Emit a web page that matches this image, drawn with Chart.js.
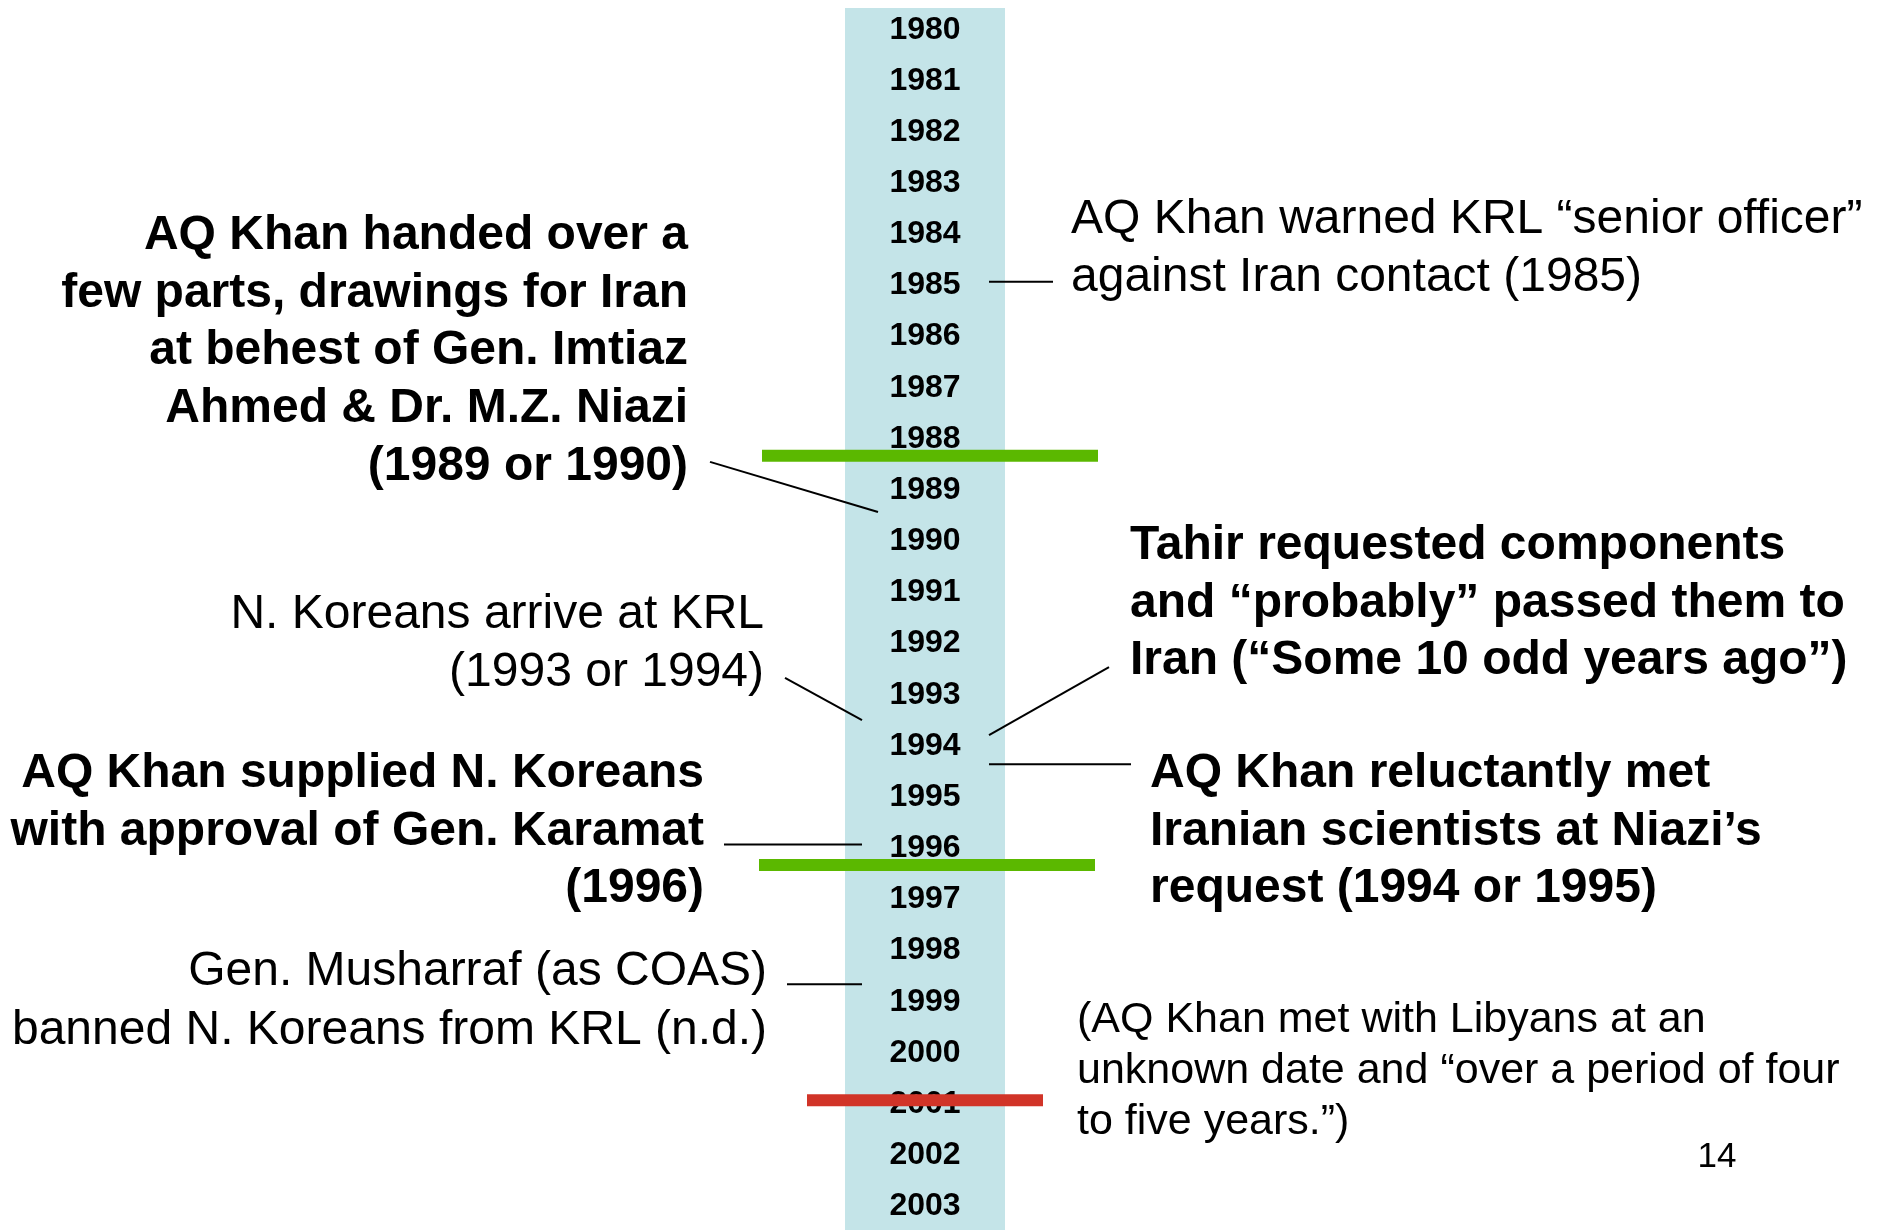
<!DOCTYPE html>
<html><head><meta charset="utf-8">
<script src="https://cdn.jsdelivr.net/npm/chart.js@4/dist/chart.umd.min.js"></script>
<style>html,body{margin:0;padding:0;background:#fff;overflow:hidden}canvas{display:block}</style>
</head><body>
<canvas id="c" width="1883" height="1230"></canvas>
<script>
// ---------- data ----------
const years = [1980,1981,1982,1983,1984,1985,1986,1987,1988,1989,1990,1991,1992,1993,1994,1995,1996,1997,1998,1999,2000,2001,2002,2003];
const boundaryYears = [1988.4, 1996.4, 2001.0];
const boundaryKinds = ['green', 'green', 'red'];
const connectorStartYears = [1985.0, 1988.52, 1992.74, 1992.53, 1994.43, 1996.0, 1998.73];
const connectorEndYears   = [1985.0, 1989.50, 1993.57, 1993.86, 1994.43, 1996.0, 1998.73];
const eventTexts = [
  ["AQ Khan handed over a","few parts, drawings for Iran","at behest of Gen. Imtiaz","Ahmed & Dr. M.Z. Niazi","(1989 or 1990)"],
  ["AQ Khan warned KRL \u201Csenior officer\u201D","against Iran contact (1985)"],
  ["Tahir requested components","and \u201Cprobably\u201D passed them to","Iran (\u201CSome 10 odd years ago\u201D)"],
  ["N. Koreans arrive at KRL","(1993 or 1994)"],
  ["AQ Khan supplied N. Koreans","with approval of Gen. Karamat","(1996)"],
  ["AQ Khan reluctantly met","Iranian scientists at Niazi\u2019s","request (1994 or 1995)"],
  ["Gen. Musharraf (as COAS)","banned N. Koreans from KRL (n.d.)"],
  ["(AQ Khan met with Libyans at an","unknown date and \u201Cover a period of four","to five years.\u201D)"]
];
const pageNumber = "14";

// ---------- layout / styles ----------
const FONT = '"Liberation Sans", Arial, Helvetica, sans-serif';
const W = 1883, H = 1230;
const yearTopPx = 26, yearStepPx = 51.16;
const yMin = years[0] - yearTopPx / yearStepPx;
const yMax = yMin + H / yearStepPx;
const band = {x0: 845, x1: 1005, topYear: years[0] - 18 / yearStepPx, color: '#C4E4E8'};
const boundaryLayout = [
  {x0: 762, x1: 1098}, {x0: 759, x1: 1095}, {x0: 807, x1: 1043}
];
const boundaryColors = {green: '#5BB800', red: '#D13428'};
const connectorLayout = [
  {x0: 989, x1: 1053}, {x0: 710, x1: 878}, {x0: 785, x1: 862}, {x0: 1109, x1: 989},
  {x0: 989, x1: 1131}, {x0: 724, x1: 862}, {x0: 787, x1: 862}
];
const textLayout = [
  {x: 688, align: 'right', base: 249, bold: true, size: 48, pitch: 57.7},
  {x: 1071, align: 'left', base: 233, bold: false, size: 48, pitch: 58},
  {x: 1130, align: 'left', base: 559, bold: true, size: 48, pitch: 57.7},
  {x: 764, align: 'right', base: 628, bold: false, size: 48, pitch: 57.5},
  {x: 704, align: 'right', base: 787, bold: true, size: 48, pitch: 57.7},
  {x: 1150, align: 'left', base: 787, bold: true, size: 48, pitch: 57.7},
  {x: 767, align: 'right', base: 985, bold: false, size: 48, pitch: 59},
  {x: 1077, align: 'left', base: 1032, bold: false, size: 43, pitch: 51}
];

// ---------- datasets ----------
const datasets = [];
boundaryYears.forEach((yr, i) => {
  datasets.push({
    data: [{x: boundaryLayout[i].x0, y: yr}, {x: boundaryLayout[i].x1, y: yr}],
    borderColor: boundaryColors[boundaryKinds[i]], borderWidth: 12, borderCapStyle: 'butt',
    showLine: true, pointRadius: 0, order: 1
  });
});
connectorStartYears.forEach((yr, i) => {
  datasets.push({
    data: [{x: connectorLayout[i].x0, y: yr}, {x: connectorLayout[i].x1, y: connectorEndYears[i]}],
    borderColor: '#000', borderWidth: 2, borderCapStyle: 'butt',
    showLine: true, pointRadius: 0, order: 2
  });
});

const timelinePlugin = {
  id: 'timeline',
  beforeDatasetsDraw(chart) {
    const ctx = chart.ctx, xs = chart.scales.x, ys = chart.scales.y;
    ctx.save();
    ctx.fillStyle = band.color;
    const bx0 = xs.getPixelForValue(band.x0), bx1 = xs.getPixelForValue(band.x1);
    const by0 = ys.getPixelForValue(band.topYear), by1 = ys.getPixelForValue(yMax);
    ctx.fillRect(bx0, by0, bx1 - bx0, by1 - by0);
    ctx.fillStyle = '#000';
    ctx.font = 'bold 32px ' + FONT;
    ctx.textAlign = 'center';
    ctx.textBaseline = 'alphabetic';
    const cx = (bx0 + bx1) / 2;
    years.forEach(y => ctx.fillText(String(y), cx, ys.getPixelForValue(y) + 12.5));
    ctx.restore();
  },
  afterDraw(chart) {
    const ctx = chart.ctx;
    ctx.save();
    ctx.fillStyle = '#000';
    ctx.textBaseline = 'alphabetic';
    eventTexts.forEach((lines, i) => {
      const L = textLayout[i];
      ctx.font = (L.bold ? 'bold ' : '') + L.size + 'px ' + FONT;
      ctx.textAlign = L.align;
      lines.forEach((t, j) => ctx.fillText(t, L.x, L.base + j * L.pitch));
    });
    ctx.font = '35px ' + FONT;
    ctx.textAlign = 'center';
    ctx.fillText(pageNumber, 1717, 1167);
    ctx.restore();
  }
};

new Chart(document.getElementById('c'), {
  type: 'scatter',
  data: {datasets},
  options: {
    responsive: false, maintainAspectRatio: false, animation: false,
    layout: {padding: 0},
    plugins: {legend: {display: false}, tooltip: {enabled: false}},
    scales: {
      x: {type: 'linear', min: 0, max: W, display: false},
      y: {type: 'linear', min: yMin, max: yMax, reverse: true, display: false}
    }
  },
  plugins: [timelinePlugin]
});
</script>
</body></html>
